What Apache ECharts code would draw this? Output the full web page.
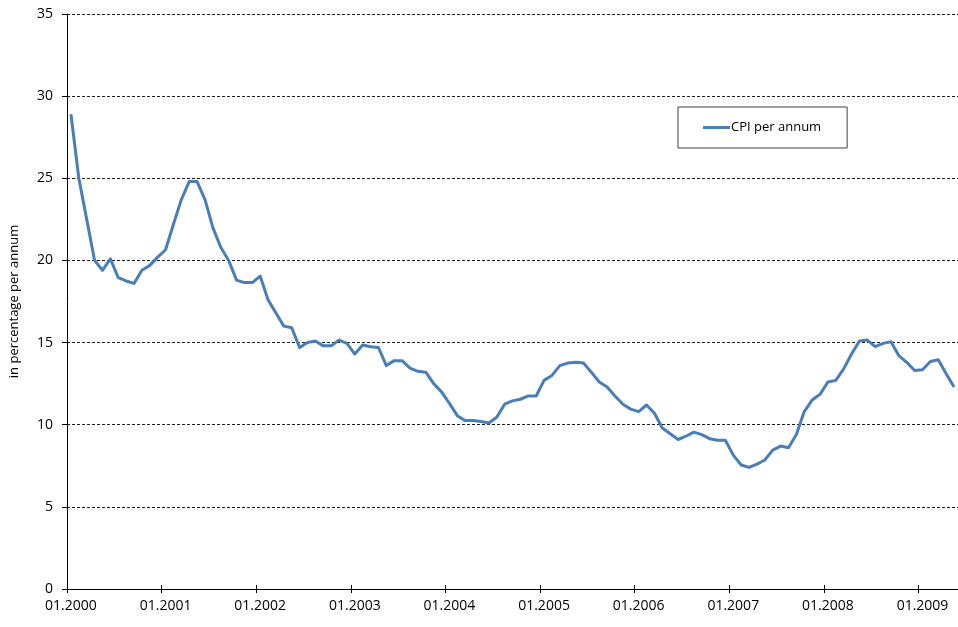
<!DOCTYPE html>
<html>
<head>
<meta charset="utf-8">
<script src="https://cdn.jsdelivr.net/npm/echarts@6/dist/echarts.min.js"></script>
<style>
  html, body { margin: 0; padding: 0; background: #fff; }
  #chart { width: 958px; height: 627px; }
</style>
</head>
<body>
<div id="chart"></div>
<script>
// Monthly consumer price inflation, Jan 2000 – May 2009 (% per annum)
const years = [2000, 2001, 2002, 2003, 2004, 2005, 2006, 2007, 2008, 2009];
const cpi = [
  28.9, 25.0, 22.5, 20.0, 19.4, 20.1, 18.95, 18.75, 18.6, 19.4, 19.7, 20.2,
  20.65, 22.2, 23.7, 24.8, 24.8, 23.7, 22.0, 20.8, 20.0, 18.8, 18.65, 18.65,
  19.05, 17.6, 16.8, 16.0, 15.9, 14.7, 15.0, 15.1, 14.8, 14.8, 15.15, 14.95,
  14.3, 14.85, 14.75, 14.7, 13.6, 13.9, 13.9, 13.45, 13.25, 13.2, 12.5, 12.0,
  11.3, 10.55, 10.25, 10.25, 10.2, 10.1, 10.45, 11.25, 11.45, 11.55, 11.75, 11.75,
  12.7, 13.0, 13.6, 13.75, 13.8, 13.75, 13.2, 12.6, 12.3, 11.75, 11.25, 10.95,
  10.8, 11.2, 10.7, 9.8, 9.45, 9.1, 9.3, 9.55, 9.4, 9.15, 9.05, 9.05,
  8.15, 7.55, 7.4, 7.6, 7.85, 8.45, 8.7, 8.6, 9.4, 10.8, 11.5, 11.85,
  12.6, 12.7, 13.4, 14.3, 15.1, 15.15, 14.75, 14.95, 15.05, 14.2, 13.8, 13.3,
  13.35, 13.85, 13.95, 13.1, 12.3
];
const seriesName = 'CPI per annum';
const yAxisTitle = 'in percentage per annum';

// MM.YYYY labels, one per month of data
const months = years.flatMap(y =>
  Array.from({ length: 12 }, (_, m) => String(m + 1).padStart(2, '0') + '.' + y)
).slice(0, cpi.length);

const font = 'Open Sans';
const chart = echarts.init(document.getElementById('chart'), null, { renderer: 'canvas' });

chart.setOption({
  animation: false,
  backgroundColor: '#ffffff',
  textStyle: { fontFamily: font },
  grid: { left: 63, top: 14, width: 897, bottom: 38, containLabel: false },
  legend: {
    data: [seriesName],
    left: 678,
    top: 107,
    orient: 'horizontal',
    icon: 'rect',
    itemWidth: 27,
    itemHeight: 3,
    padding: [14, 26, 14, 25],
    borderColor: '#404040',
    borderWidth: 1,
    backgroundColor: '#fff',
    textStyle: { fontFamily: font, fontSize: 13, color: '#000', padding: [0, 0, 0, -4] }
  },
  xAxis: [
    {
      type: 'category',
      data: months,
      boundaryGap: true,
      axisLine: { lineStyle: { color: '#000', width: 1 } },
      axisTick: { show: true, interval: 11, length: 4, inside: false, lineStyle: { color: '#000' } },
      axisLabel: { interval: 11, margin: 10, fontFamily: font, fontSize: 14, color: '#000' },
      splitLine: { show: false }
    },
    {
      type: 'category',
      data: months,
      position: 'bottom',
      boundaryGap: true,
      axisLine: { show: false },
      axisTick: { show: true, interval: 11, length: 4, inside: true, lineStyle: { color: '#000' } },
      axisLabel: { show: false },
      splitLine: { show: false }
    }
  ],
  yAxis: {
    type: 'value',
    min: 0,
    max: 35,
    interval: 5,
    name: yAxisTitle,
    nameLocation: 'middle',
    nameGap: 46,
    nameRotate: 90,
    nameTextStyle: { fontFamily: font, fontSize: 13, color: '#000' },
    axisLine: { show: true, lineStyle: { color: '#000', width: 1 } },
    axisTick: { show: true, length: 5, lineStyle: { color: '#000' } },
    axisLabel: { margin: 14, fontFamily: font, fontSize: 14, color: '#000' },
    splitLine: { show: true, lineStyle: { color: '#1a1a1a', width: 1, type: [3, 2] } }
  },
  series: [{
    name: seriesName,
    type: 'line',
    data: cpi,
    xAxisIndex: 0,
    showSymbol: false,
    symbol: 'none',
    lineStyle: { color: '#4a7ebb', width: 3, join: 'round' },
    itemStyle: { color: '#4a7ebb' }
  }]
});
</script>
</body>
</html>
